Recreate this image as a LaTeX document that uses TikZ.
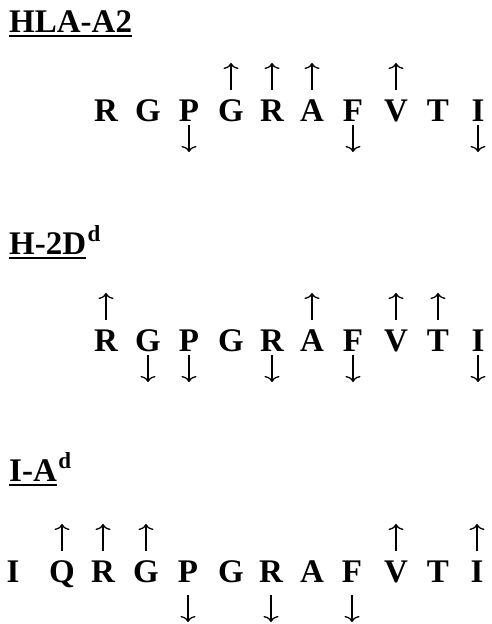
\documentclass[tikz,border=0pt]{standalone}
\usepackage{fontspec}
\setmainfont{Liberation Serif}
\usetikzlibrary{arrows.meta}

\begin{document}
\begin{tikzpicture}[x=1pt,y=1pt,>={To[length=6pt,width=15pt]},
  res/.style={font=\bfseries\fontsize{33}{33}\selectfont,inner sep=0pt,anchor=base},
  ttl/.style={font=\bfseries\fontsize{33}{33}\selectfont,inner sep=0pt,anchor=base west},
  sup/.style={font=\bfseries\fontsize{23}{23}\selectfont,inner sep=0pt,anchor=base west},
  uline/.style={line width=1.8pt},
  marr/.style={->,line width=1.3pt}]
\useasboundingbox (0,0) rectangle (491,624);
% HLA-A2
\node[ttl] (hla) at (9,591) {HLA-A2};
\draw[uline] ([yshift=-3pt]hla.base west)--([yshift=-3pt]hla.base east);
\foreach \x/\l [count=\i] in {106/R,148/G,189/P,231/G,272/R,312/A,353/F,396/V,438/T,478/I}
  \node[res] (a\i) at (\x,502) {\l};
\foreach \i in {4,5,6,8} \draw[marr] ([yshift=32pt]a\i.base)--++(0,27);
\foreach \i in {3,7,10} \draw[marr] ([yshift=-3pt]a\i.base)--++(0,-27);
% H-2Dd
\node[ttl] (htwo) at (9,369) {H-2D};
\node[sup] (htwosup) at ([xshift=1pt,yshift=13pt]htwo.base east) {d};
\draw[uline] ([yshift=-3pt]htwo.base west)--([yshift=-3pt]htwo.base east);
\foreach \x/\l [count=\i] in {106/R,148/G,189/P,231/G,272/R,312/A,353/F,396/V,438/T,478/I}
  \node[res] (b\i) at (\x,272) {\l};
\foreach \i in {1,6,8,9} \draw[marr] ([yshift=32pt]b\i.base)--++(0,27);
\foreach \i in {2,3,5,7,10} \draw[marr] ([yshift=-3pt]b\i.base)--++(0,-27);
% I-Ad
\node[ttl] (iad) at (9,142) {I-A};
\node[sup] (iadsup) at ([xshift=1pt,yshift=13pt]iad.base east) {d};
\draw[uline] ([yshift=-3pt]iad.base west)--([yshift=-3pt]iad.base east);
\foreach \x/\l [count=\i] in {13/I,62/Q,103/R,146/G,188/P,231/G,271/R,312/A,352/F,396/V,438/T,477/I}
  \node[res] (c\i) at (\x,41) {\l};
\foreach \i in {2,3,4,10,12} \draw[marr] ([yshift=32pt]c\i.base)--++(0,27);
\foreach \i in {5,7,9} \draw[marr] ([yshift=-12pt]c\i.base)--++(0,-27);
\end{tikzpicture}
\end{document}
